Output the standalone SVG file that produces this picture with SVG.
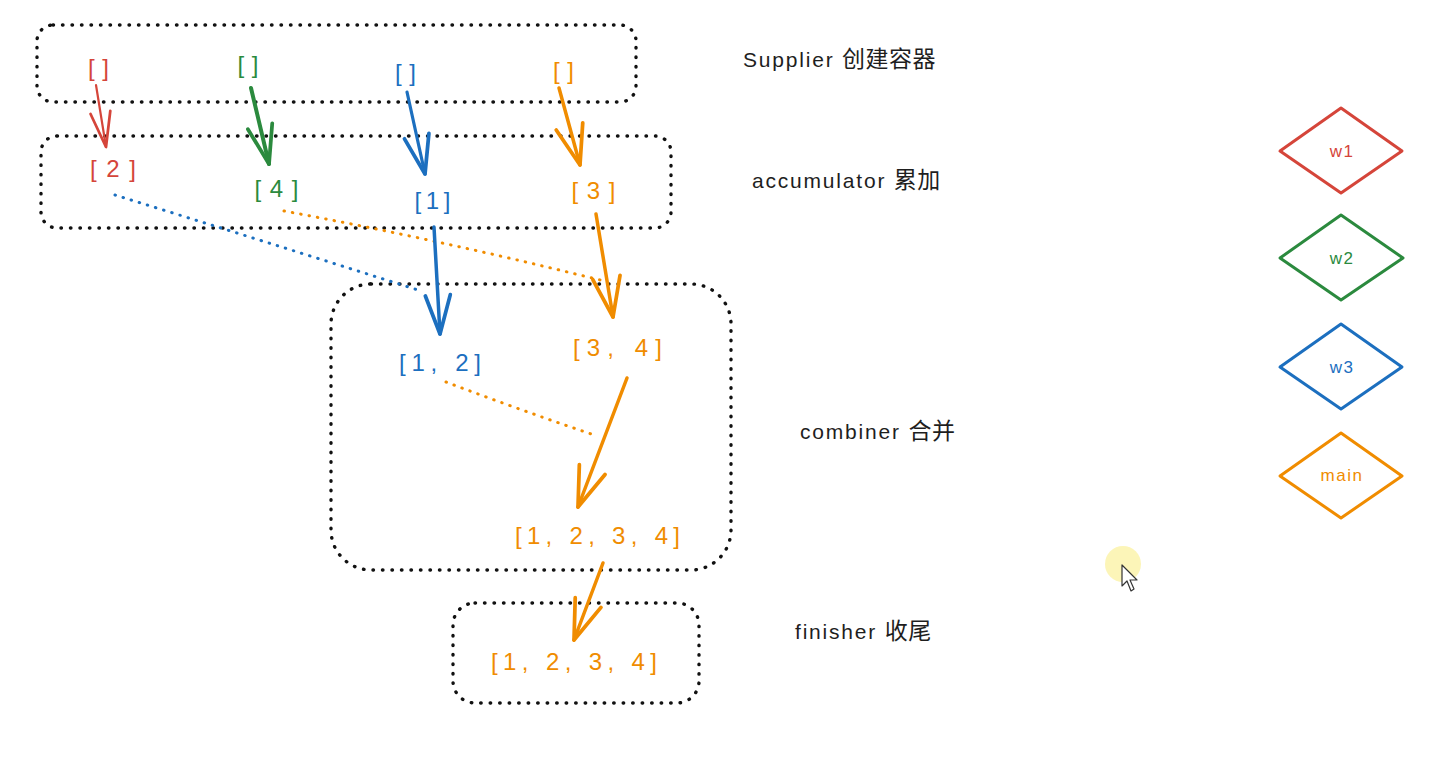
<svg xmlns="http://www.w3.org/2000/svg" width="1433" height="772" viewBox="0 0 1433 772">
<defs>
<style>
.box{fill:none;stroke:#111;stroke-width:3.4;stroke-dasharray:0.5 9;stroke-linecap:round}
.t{font-family:"Liberation Sans","Noto Sans CJK SC",sans-serif;text-anchor:middle;font-size:24px}
.lbl{font-family:"Liberation Sans","Noto Sans CJK SC",sans-serif;font-size:21px;letter-spacing:1.8px;fill:#1e1e1e}
.cjk{font-family:"Noto Sans CJK SC",sans-serif;font-size:23px;letter-spacing:0.5px}
.r{fill:#d5453a}.g{fill:#2b8a3e}.b{fill:#1c6fbf}.o{fill:#f08c00}
.dot{fill:none;stroke-width:3;stroke-dasharray:0.5 8;stroke-linecap:round}
.arr{fill:none;stroke-linecap:round}
.dia{fill:none;stroke-width:3;stroke-linejoin:round}
.dt{font-family:"Liberation Sans",sans-serif;text-anchor:middle;font-size:17px;letter-spacing:1.5px}
</style>
<marker id="mr" markerUnits="userSpaceOnUse" markerWidth="50" markerHeight="50" refX="0" refY="0" viewBox="-35 -18 40 36" orient="auto" overflow="visible"><path d="M-28,-8 L0,0 L-28,8" fill="none" stroke="#d5453a" stroke-width="2.2" stroke-linecap="round" stroke-linejoin="round"/></marker>
<marker id="mg" markerUnits="userSpaceOnUse" markerWidth="50" markerHeight="50" refX="0" refY="0" viewBox="-35 -18 40 36" orient="auto" overflow="visible"><path d="M-31,-10 L0,0 L-31,10" fill="none" stroke="#2b8a3e" stroke-width="3" stroke-linecap="round" stroke-linejoin="round"/></marker>
<marker id="mb" markerUnits="userSpaceOnUse" markerWidth="50" markerHeight="50" refX="0" refY="0" viewBox="-35 -18 40 36" orient="auto" overflow="visible"><path d="M-31,-10 L0,0 L-31,10" fill="none" stroke="#1c6fbf" stroke-width="3" stroke-linecap="round" stroke-linejoin="round"/></marker>
<marker id="mo" markerUnits="userSpaceOnUse" markerWidth="50" markerHeight="50" refX="0" refY="0" viewBox="-35 -18 40 36" orient="auto" overflow="visible"><path d="M-32,-11 L0,0 L-32,11" fill="none" stroke="#f08c00" stroke-width="3" stroke-linecap="round" stroke-linejoin="round"/></marker>
</defs>
<rect width="1433" height="772" fill="#ffffff"/>

<g id="supplier-box"><rect class="box" x="37" y="25" width="599" height="77" rx="16"/></g>
<g id="accumulator-box"><rect class="box" x="41" y="136" width="630" height="92" rx="16"/></g>
<g id="combiner-box"><rect class="box" x="331" y="284" width="400" height="286" rx="40"/></g>
<g id="finisher-box"><rect class="box" x="453" y="603" width="246" height="100" rx="22"/></g>

<g id="connectors">
<path class="dot" stroke="#1c6fbf" d="M115,195 Q260,240 418,290"/>
<path class="dot" stroke="#f08c00" d="M284,211 Q440,240 600,280"/>
<path class="dot" stroke="#f08c00" d="M446,382 Q520,410 597,436"/>
<path class="arr" stroke="#d5453a" stroke-width="2.2" d="M96,85 L106,147" marker-end="url(#mr)"/>
<path class="arr" stroke="#2b8a3e" stroke-width="4" d="M251,88 L269,164" marker-end="url(#mg)"/>
<path class="arr" stroke="#1c6fbf" stroke-width="3.2" d="M407,92 L425,174" marker-end="url(#mb)"/>
<path class="arr" stroke="#f08c00" stroke-width="3.5" d="M559,88 L580,165" marker-end="url(#mo)"/>
<path class="arr" stroke="#1c6fbf" stroke-width="3.5" d="M434,227 L440,334" marker-end="url(#mb)"/>
<path class="arr" stroke="#f08c00" stroke-width="3.5" d="M596,214 L613,317" marker-end="url(#mo)"/>
<path class="arr" stroke="#f08c00" stroke-width="3.5" d="M627,378 L578,507" marker-end="url(#mo)"/>
<path class="arr" stroke="#f08c00" stroke-width="3.5" d="M603,563 L574,640" marker-end="url(#mo)"/>
</g>

<g id="s-red"><text class="t r" x="98.5" y="76" textLength="21" lengthAdjust="spacing">[]</text></g>
<g id="s-green"><text class="t g" x="248" y="73" textLength="21" lengthAdjust="spacing">[]</text></g>
<g id="s-blue"><text class="t b" x="405.5" y="81" textLength="21" lengthAdjust="spacing">[]</text></g>
<g id="s-orange"><text class="t o" x="563.5" y="79" textLength="21" lengthAdjust="spacing">[]</text></g>

<g id="a-red"><text class="t r" x="113" y="177" textLength="46" lengthAdjust="spacing">[2]</text></g>
<g id="a-green"><text class="t g" x="276.5" y="197" textLength="44" lengthAdjust="spacing">[4]</text></g>
<g id="a-blue"><text class="t b" x="432.5" y="209" textLength="36" lengthAdjust="spacing">[1]</text></g>
<g id="a-orange"><text class="t o" x="593.5" y="199" textLength="44" lengthAdjust="spacing">[3]</text></g>

<g id="c-12"><text class="t b" x="440" y="371" textLength="82" lengthAdjust="spacing">[1, 2]</text></g>
<g id="c-34"><text class="t o" x="617.5" y="356" textLength="89" lengthAdjust="spacing">[3, 4]</text></g>
<g id="c-1234"><text class="t o" x="597.5" y="544" textLength="165" lengthAdjust="spacing">[1, 2, 3, 4]</text></g>
<g id="f-1234"><text class="t o" x="574" y="670" textLength="166" lengthAdjust="spacing">[1, 2, 3, 4]</text></g>

<g id="label-supplier"><text class="lbl" x="743" y="67">Supplier <tspan class="cjk">创建容器</tspan></text></g>
<g id="label-accumulator"><text class="lbl" x="752" y="188">accumulator <tspan class="cjk">累加</tspan></text></g>
<g id="label-combiner"><text class="lbl" x="800" y="439">combiner <tspan class="cjk">合并</tspan></text></g>
<g id="label-finisher"><text class="lbl" x="795" y="639">finisher <tspan class="cjk">收尾</tspan></text></g>

<g id="w1"><path class="dia" stroke="#d5453a" d="M1341,108 L1402,151 L1341,193 L1280,151 Z"/><text class="dt r" x="1342" y="157">w1</text></g>
<g id="w2"><path class="dia" stroke="#2b8a3e" d="M1341,215 L1403,258 L1341,300 L1280,258 Z"/><text class="dt g" x="1342" y="264">w2</text></g>
<g id="w3"><path class="dia" stroke="#1c6fbf" d="M1341,324 L1402,367 L1341,409 L1280,367 Z"/><text class="dt b" x="1342" y="373">w3</text></g>
<g id="main"><path class="dia" stroke="#f08c00" d="M1341,433 L1402,476 L1341,518 L1280,476 Z"/><text class="dt o" x="1342" y="481">main</text></g>

<g id="cursor">
<circle cx="1123" cy="564" r="18" fill="#fbf3a6" opacity="0.8"/>
<path d="M1122,565 L1122,586 L1127,581 L1131,591 L1134,589 L1130,580 L1137,580 Z" fill="#ffffff" stroke="#333" stroke-width="1.2" stroke-linejoin="round"/>
</g>
</svg>
